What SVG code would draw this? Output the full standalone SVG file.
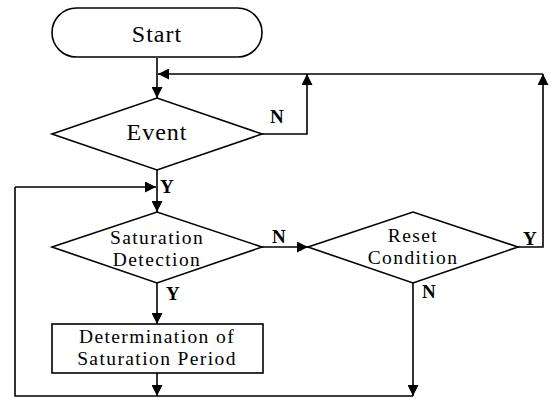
<svg xmlns="http://www.w3.org/2000/svg" width="550" height="398" viewBox="0 0 550 398">
<style>
.s{fill:#fff;stroke:#000;stroke-width:1.6}
.l{fill:none;stroke:#000;stroke-width:1.6}
.t{font-family:"Liberation Serif",serif;font-size:24px;letter-spacing:1px;text-anchor:middle;fill:#000}
.m{font-family:"Liberation Serif",serif;font-size:19.5px;letter-spacing:1.4px;text-anchor:middle;fill:#000}
.b{font-family:"Liberation Serif",serif;font-size:19px;font-weight:bold;fill:#000}
</style>
<defs>
<marker id="a" viewBox="0 0 10 10" refX="10" refY="5" markerWidth="11" markerHeight="11" markerUnits="userSpaceOnUse" orient="auto"><path d="M0,0L10,5L0,10z" fill="#000"/></marker>
</defs>
<g id="connectors">
<path class="l" d="M157,58V98" marker-end="url(#a)"/>
<path class="l" d="M543,74H158" marker-end="url(#a)"/>
<path class="l" d="M262,134H307V74" marker-end="url(#a)"/>
<path class="l" d="M157,170V212" marker-end="url(#a)"/>
<path class="l" d="M15,187H156" marker-end="url(#a)"/>
<path class="l" d="M262,247H308" marker-end="url(#a)"/>
<path class="l" d="M518,247H543V74" marker-end="url(#a)"/>
<path class="l" d="M157,283V324" marker-end="url(#a)"/>
<path class="l" d="M157,373V396" marker-end="url(#a)"/>
<path class="l" d="M413,283V396" marker-end="url(#a)"/>
<path class="l" d="M15,187V396H413"/>
</g>
<g id="start"><rect class="s" x="52" y="8" width="210" height="49" rx="24.5"/><text class="t" x="157" y="42">Start</text></g>
<g id="event"><path class="s" d="M52,134L157,98L262,134L157,170z"/><text class="t" x="157" y="140">Event</text></g>
<g id="saturation"><path class="s" d="M52,247L157,212L262,247L157,283z"/><text class="m" x="157" y="244">Saturation</text><text class="m" x="157" y="266">Detection</text></g>
<g id="reset"><path class="s" d="M308,247L413,212L518,247L413,283z"/><text class="m" x="413" y="242">Reset</text><text class="m" x="413" y="264">Condition</text></g>
<g id="period"><rect class="s" x="52" y="324" width="211" height="49"/><text class="m" x="157" y="343">Determination of</text><text class="m" x="157" y="365">Saturation Period</text></g>
<g id="labels">
<text class="b" x="270" y="123">N</text>
<text class="b" x="160" y="193">Y</text>
<text class="b" x="272" y="243">N</text>
<text class="b" x="166" y="300">Y</text>
<text class="b" x="523" y="245">Y</text>
<text class="b" x="422" y="298">N</text>
</g>
</svg>
